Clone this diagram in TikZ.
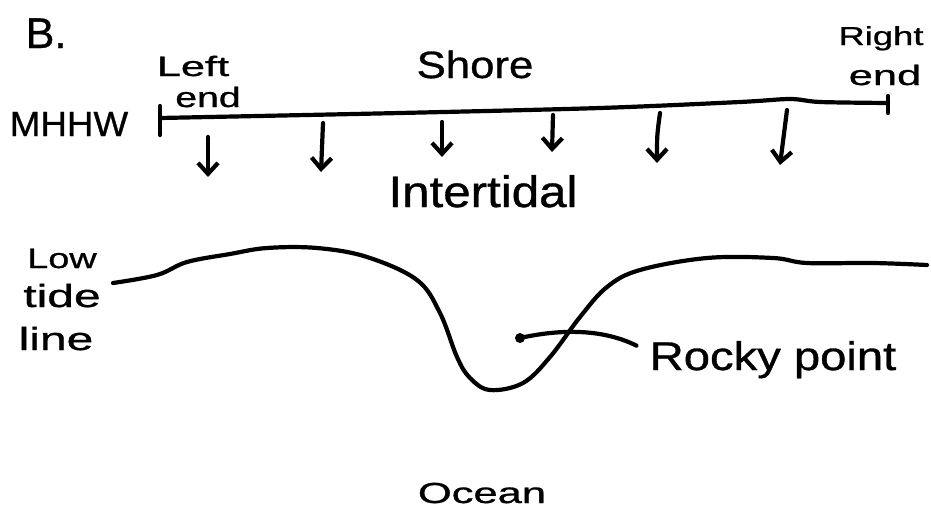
\documentclass[tikz,border=0pt]{standalone}
\usepackage{fontspec}
\setmainfont[FakeBold=0.8]{Liberation Sans}
\usepackage{graphicx}
\usetikzlibrary{arrows.meta}
\newcommand{\hwt}[3]{{\fontsize{#1}{#1}\selectfont\scalebox{#2}[1]{#3}}}
\begin{document}
\begin{tikzpicture}[x=1pt,y=-1pt,
  ink/.style={line width=4.2pt, line cap=round, line join=round},
  lbl/.style={anchor=base, inner sep=0pt},
  down/.style={ink, -{Straight Barb[length=11pt,width=20pt]}}]
\useasboundingbox (0,0) rectangle (931,514);
% labels
\node[lbl] (B) at (46,48) {\hwt{43}{1.0}{B.}};
\node[lbl] (mhhw) at (69,136) {\hwt{35}{1.05}{MHHW}};
\node[lbl] (left) at (193,76) {\hwt{28}{1.55}{Left}};
\node[lbl] (lend) at (208,107) {\hwt{28}{1.4}{end}};
\node[lbl] (shore) at (475,78) {\hwt{38}{1.15}{Shore}};
\node[lbl] (right) at (881,45) {\hwt{26}{1.4}{Right}};
\node[lbl] (rend) at (885,85) {\hwt{28}{1.55}{end}};
\node[lbl] (inter) at (483,207) {\hwt{44}{1.12}{Intertidal}};
\node[lbl] (low) at (62,268) {\hwt{28}{1.35}{Low}};
\node[lbl] (tide) at (62,307) {\hwt{32}{1.5}{tide}};
\node[lbl] (line) at (56,350) {\hwt{32}{1.5}{line}};
\node[lbl] (rocky) at (773,370) {\hwt{40}{1.18}{Rocky point}};
\node[lbl] (ocean) at (482,503) {\hwt{29}{1.5}{Ocean}};
% MHHW shore line with end ticks
\coordinate (lt) at (160,118);
\coordinate (rt) at (888,103);
\draw[ink] plot[smooth, tension=0.5] coordinates {(lt) (400,113) (600,108) (740,102) (790,99) (820,102) (rt)};
\draw[ink] ([yshift=12pt]lt) -- ([yshift=-17pt]lt);
\draw[ink] ([yshift=7pt]rt) -- ([yshift=-10pt]rt);
% arrows
\draw[down] (208,137) -- (208,177);
\draw[down] (323,123) -- (321,172);
\draw[down] (442,122) -- (442,157);
\draw[down] (553,115) -- (552,152);
\draw[down] (660,113) .. controls (657,135) .. (657,163);
\draw[down] (787,110) -- (780,165);
% low tide line
\draw[ink] plot[smooth, tension=0.6] coordinates {(113,283) (157,275) (187,262) (230,254) (267,248) (317,248) (367,257) (417,280) (440,313) (457,357) (470,378) (490,390) (523,383) (550,357) (580,317) (607,287) (640,270) (707,258) (773,258) (807,263) (873,263) (927,265)};
% rocky point pointer
\coordinate (dot) at (520,338);
\fill (dot) circle (5pt);
\draw[ink] (dot) .. controls (565,328) and (605,330) .. ([xshift=-13pt,yshift=14pt]rocky.west);
\end{tikzpicture}
\end{document}
